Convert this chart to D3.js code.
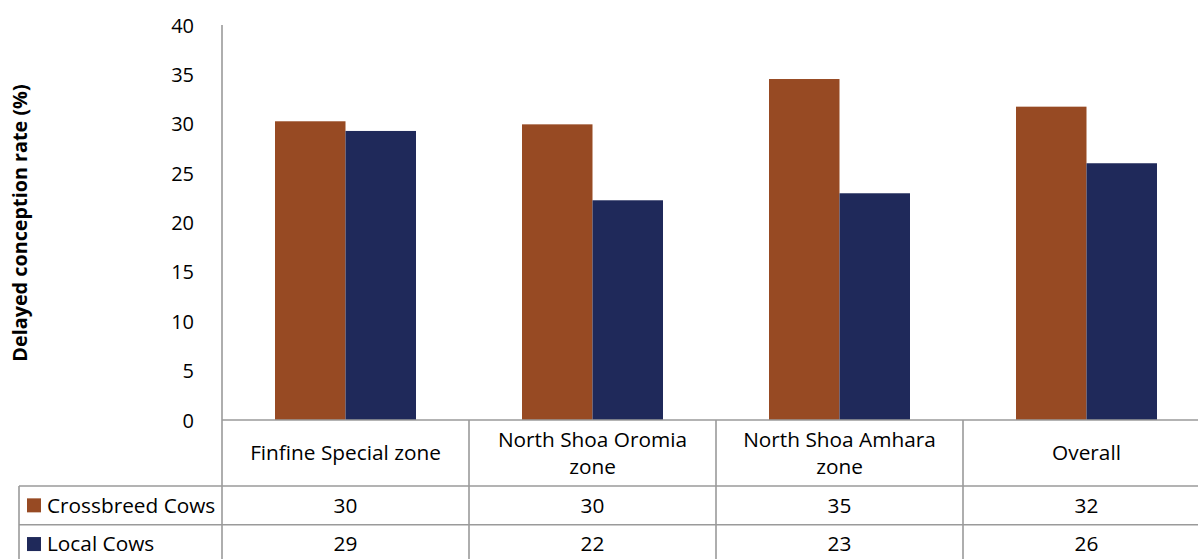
<!DOCTYPE html>
<html>
<head>
<meta charset="utf-8">
<script src="https://cdn.jsdelivr.net/npm/d3@7"></script>
<style>
  body { margin: 0; background: #fff; }
  text { font-family: "Open Sans", Lato, sans-serif; fill: #000; }
</style>
</head>
<body>
<div id="chart"></div>
<script>
var categories = ["Finfine Special zone", "North Shoa Oromia zone", "North Shoa Amhara zone", "Overall"];
var seriesNames = ["Crossbreed Cows", "Local Cows"];
var crossbreedValues = [30.25, 29.94, 34.53, 31.73];
var localValues = [29.27, 22.25, 22.96, 26.0];
var yTicks = [0, 5, 10, 15, 20, 25, 30, 35, 40];

var colors = ["#974A23", "#1F295A"],
	gridColor = "#9a9a9a",
	fs = "20.8px",
	W = 1198, H = 559;

var seriesValues = [crossbreedValues, localValues];

var svg = d3.select("#chart").append("svg")
	.attr("width", W)
	.attr("height", H);

var x = d3.scaleBand().domain(categories).range([222, 1210]).padding(0);
var xSub = d3.scaleBand().domain(seriesNames).range([0, x.bandwidth()]).paddingInner(0).paddingOuter(0.752);
var y = d3.scaleLinear().domain([0, 40]).range([420, 25]);

// bars
seriesNames.forEach(function(s, si) {
	svg.append("g").selectAll("rect")
		.data(categories)
		.enter().append("rect")
		.attr("x", function(d) { return x(d) + xSub(s); })
		.attr("y", function(d, i) { return y(seriesValues[si][i]); })
		.attr("width", xSub.bandwidth())
		.attr("height", function(d, i) { return y(0) - y(seriesValues[si][i]); })
		.attr("fill", colors[si]);
});

// y axis
var yAxis = d3.axisLeft(y).tickValues(yTicks).tickSize(0).tickPadding(0);
var gy = svg.append("g")
	.attr("transform", "translate(194,0)")
	.call(yAxis);
gy.select(".domain").remove();
gy.selectAll("text").style("font-size", "20px").style("font-family", null).attr("fill", "#000").attr("dy", "0.35em");

svg.append("line")
	.attr("x1", 222).attr("x2", 222)
	.attr("y1", y(40)).attr("y2", H + 10)
	.style("stroke", gridColor).style("stroke-width", 1.6);

svg.append("text")
	.attr("transform", "translate(27," + 223 + ") rotate(-90)")
	.attr("text-anchor", "middle")
	.style("font-size", "19.8px")
	.style("font-weight", "bold")
	.text("Delayed conception rate (%)");

// data table
var rowTop = [420, 486, 524.7, 563.4],
	tableLeft = 19,
	tableRight = 1210;

rowTop.forEach(function(r, i) {
	svg.append("line")
		.attr("x1", i === 0 ? 222 : tableLeft).attr("x2", tableRight)
		.attr("y1", r).attr("y2", r)
		.style("stroke", gridColor).style("stroke-width", 1.6);
});

svg.append("line")
	.attr("x1", tableLeft).attr("x2", tableLeft)
	.attr("y1", rowTop[1]).attr("y2", rowTop[3])
	.style("stroke", gridColor).style("stroke-width", 1.6);

categories.forEach(function(c, i) {
	if (i === 0) return;
	svg.append("line")
		.attr("x1", x(c)).attr("x2", x(c))
		.attr("y1", rowTop[0]).attr("y2", rowTop[3])
		.style("stroke", gridColor).style("stroke-width", 1.6);
});

// header cells, wrapped like the category axis
function wrapLines(str, maxW) {
	var words = str.split(" "), lines = [], line = [];
	var probe = svg.append("text").style("font-size", fs);
	words.forEach(function(w) {
		line.push(w);
		probe.text(line.join(" "));
		if (probe.node().getComputedTextLength() > maxW && line.length > 1) {
			line.pop();
			lines.push(line.join(" "));
			line = [w];
		}
	});
	lines.push(line.join(" "));
	probe.remove();
	return lines;
}

categories.forEach(function(c) {
	var lines = wrapLines(c, 215);
	var cy = (rowTop[0] + rowTop[1]) / 2,
		lh = 27;
	var t = svg.append("text")
		.attr("text-anchor", "middle")
		.style("font-size", fs);
	lines.forEach(function(l, li) {
		t.append("tspan")
			.attr("x", x(c) + x.bandwidth() / 2)
			.attr("y", cy + (li - (lines.length - 1) / 2) * lh)
			.attr("dy", "0.35em")
			.text(l);
	});
});

seriesNames.forEach(function(s, si) {
	var cy = (rowTop[si + 1] + rowTop[si + 2]) / 2;
	svg.append("rect")
		.attr("x", 27).attr("y", cy - 7)
		.attr("width", 14).attr("height", 14)
		.attr("fill", colors[si]);
	svg.append("text")
		.attr("x", 47).attr("y", cy)
		.attr("dy", "0.35em")
		.style("font-size", fs)
		.text(s);
	svg.append("g").selectAll("text")
		.data(categories)
		.enter().append("text")
		.attr("x", function(d) { return x(d) + x.bandwidth() / 2; })
		.attr("y", cy)
		.attr("dy", "0.35em")
		.attr("text-anchor", "middle")
		.style("font-size", fs)
		.text(function(d, i) { return d3.format(".0f")(seriesValues[si][i]); });
});
</script>
</body>
</html>
